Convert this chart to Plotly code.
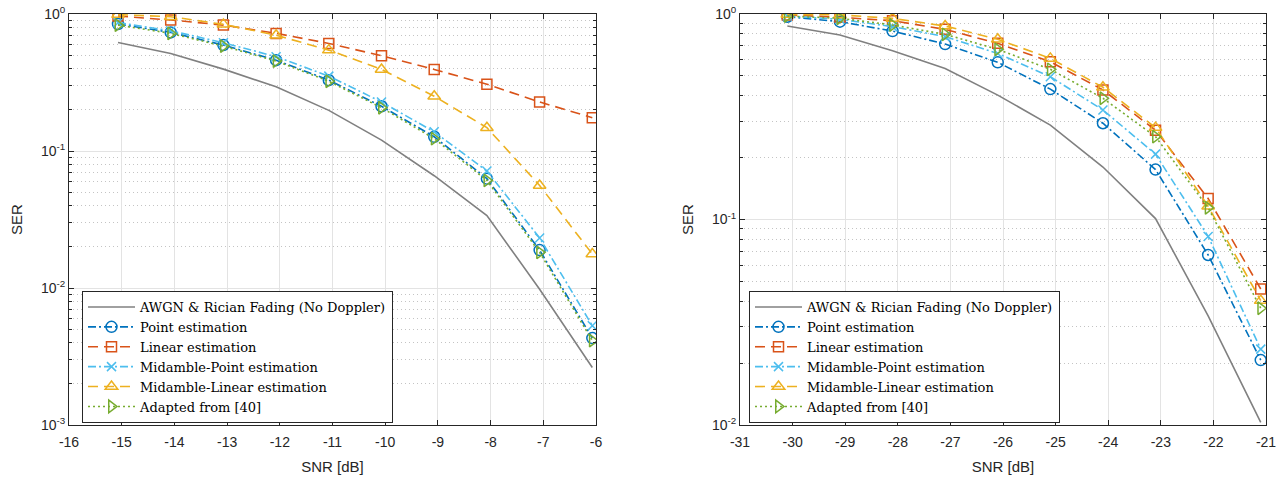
import plotly.graph_objects as go

# ---- data: left panel ----
snr_left = [-15.07, -14.07, -13.07, -12.07, -11.07, -10.07, -9.07, -8.07, -7.07, -6.07]
awgn_left = [0.62, 0.515, 0.396, 0.294, 0.198, 0.120, 0.066, 0.0338, 0.0098, 0.00263]
point_left = [0.845, 0.734, 0.593, 0.46, 0.329, 0.212, 0.127, 0.0628, 0.0189, 0.00431]
linear_left = [0.966, 0.904, 0.83, 0.722, 0.61, 0.496, 0.394, 0.307, 0.228, 0.175]
mid_point_left = [0.864, 0.755, 0.617, 0.488, 0.352, 0.228, 0.138, 0.0714, 0.0232, 0.00531]
mid_linear_left = [0.99, 0.956, 0.84, 0.70, 0.545, 0.394, 0.251, 0.148, 0.056, 0.0177]
adapted_left = [0.83, 0.722, 0.583, 0.453, 0.323, 0.207, 0.123, 0.061, 0.0182, 0.00413]

# ---- data: right panel ----
snr_right = [-30.1, -29.1, -28.1, -27.1, -26.1, -25.1, -24.1, -23.1, -22.1, -21.1]
awgn_right = [0.874, 0.79, 0.663, 0.543, 0.403, 0.288, 0.18, 0.101, 0.034, 0.0103]
point_right = [0.97, 0.918, 0.826, 0.714, 0.582, 0.431, 0.294, 0.175, 0.0672, 0.0207]
linear_right = [0.99, 0.963, 0.928, 0.842, 0.72, 0.586, 0.427, 0.272, 0.1265, 0.0459]
mid_point_right = [0.978, 0.942, 0.868, 0.776, 0.643, 0.495, 0.341, 0.208, 0.0827, 0.0234]
mid_linear_right = [0.995, 0.99, 0.952, 0.874, 0.753, 0.608, 0.44, 0.28, 0.116, 0.0403]
adapted_right = [0.978, 0.953, 0.884, 0.796, 0.673, 0.538, 0.389, 0.253, 0.114, 0.037]

# tick labels
xticks_left = list(range(-16, -5))
xticks_right = list(range(-31, -20))

names = ["AWGN &amp; Rician Fading (No Doppler)", "Point estimation", "Linear estimation",
         "Midamble-Point estimation", "Midamble-Linear estimation", "Adapted from [40]"]

styles = [
    dict(color="#808080", dash="solid", symbol=None, size=0),
    dict(color="#0072BD", dash="8px,3px,2px,3px", symbol="circle-open", size=11),
    dict(color="#D95319", dash="10px,6px", symbol="square-open", size=10),
    dict(color="#4DBEEE", dash="8px,3px,2px,3px", symbol="x-thin-open", size=9),
    dict(color="#EDB120", dash="10px,6px", symbol="triangle-up-open", size=11),
    dict(color="#77AC30", dash="2px,3px", symbol="triangle-right-open", size=11),
]

fig = go.Figure()


def add_panel(x, series, xa, ya, legend):
    for name, y, st in zip(names, series, styles):
        if st["symbol"] is None:
            mode = "lines"
            marker = None
        else:
            mode = "lines+markers"
            marker = dict(symbol=st["symbol"], size=st["size"], color=st["color"],
                          line=dict(width=1.5, color=st["color"]))
        fig.add_trace(go.Scatter(
            x=x, y=y, name=name, mode=mode, xaxis=xa, yaxis=ya, legend=legend,
            line=dict(color=st["color"], width=1.6, dash=st["dash"]),
            marker=marker,
        ))


add_panel(snr_left, [awgn_left, point_left, linear_left, mid_point_left,
                     mid_linear_left, adapted_left], "x", "y", "legend")
add_panel(snr_right, [awgn_right, point_right, linear_right, mid_point_right,
                      mid_linear_right, adapted_right], "x2", "y2", "legend2")

W, H = 1279, 478
frame = "#262626"
tickfont = dict(family="Liberation Sans, Arial, sans-serif", size=14, color="#262626")
titlefont = dict(family="Liberation Sans, Arial, sans-serif", size=15, color="#262626")


def xaxis(domain, ticks, anchor):
    return dict(domain=domain, range=[ticks[0], ticks[-1]], anchor=anchor,
                tickvals=ticks, ticktext=[str(t) for t in ticks], automargin=False,
                showline=True, linecolor=frame, linewidth=1, mirror="ticks",
                ticks="inside", ticklen=5, tickcolor=frame, ticklabelstandoff=4,
                showgrid=True, gridcolor="#E3E3E3", gridwidth=1, zeroline=False,
                tickfont=tickfont, title=dict(text="SNR [dB]", font=titlefont, standoff=12))


def yaxis(domain, lo, anchor):
    vals = [10 ** k for k in range(lo, 1)]
    text = ["10<sup>%d</sup>" % k for k in range(lo, 1)]
    return dict(domain=domain, type="log", range=[lo, 0], anchor=anchor,
                tickvals=vals, ticktext=text, automargin=False,
                showline=True, linecolor=frame, linewidth=1, mirror="ticks",
                ticks="inside", ticklen=5, tickcolor=frame,
                showgrid=True, gridcolor="#E3E3E3", gridwidth=1, zeroline=False,
                minor=dict(dtick="D1", showgrid=True, gridcolor="#C4C4C4",
                           griddash="1px,3px", ticks="inside", ticklen=3, tickcolor=frame),
                tickfont=tickfont, title=dict(text="SER", font=titlefont, standoff=14))


ydom = [(H - 425) / H, (H - 14) / H]
legend_style = dict(bgcolor="white", bordercolor=frame, borderwidth=1,
                    font=dict(family="DejaVu Serif", size=13, color="#000000"),
                    tracegroupgap=0, itemwidth=47, entrywidth=351, entrywidthmode="pixels",
                    xanchor="left", yanchor="top")

fig.update_layout(
    width=W, height=H,
    margin=dict(l=0, r=0, t=0, b=0),
    paper_bgcolor="white", plot_bgcolor="white",
    xaxis=xaxis([69 / W, 596 / W], xticks_left, "y"),
    yaxis=yaxis(ydom, -3, "x"),
    xaxis2=xaxis([740 / W, 1266 / W], xticks_right, "y2"),
    yaxis2=yaxis(ydom, -2, "x2"),
    legend=dict(x=82 / W, y=(H - 291) / H, **legend_style),
    legend2=dict(x=749 / W, y=(H - 291) / H, **legend_style),
)

fig.write_html("out.html")
